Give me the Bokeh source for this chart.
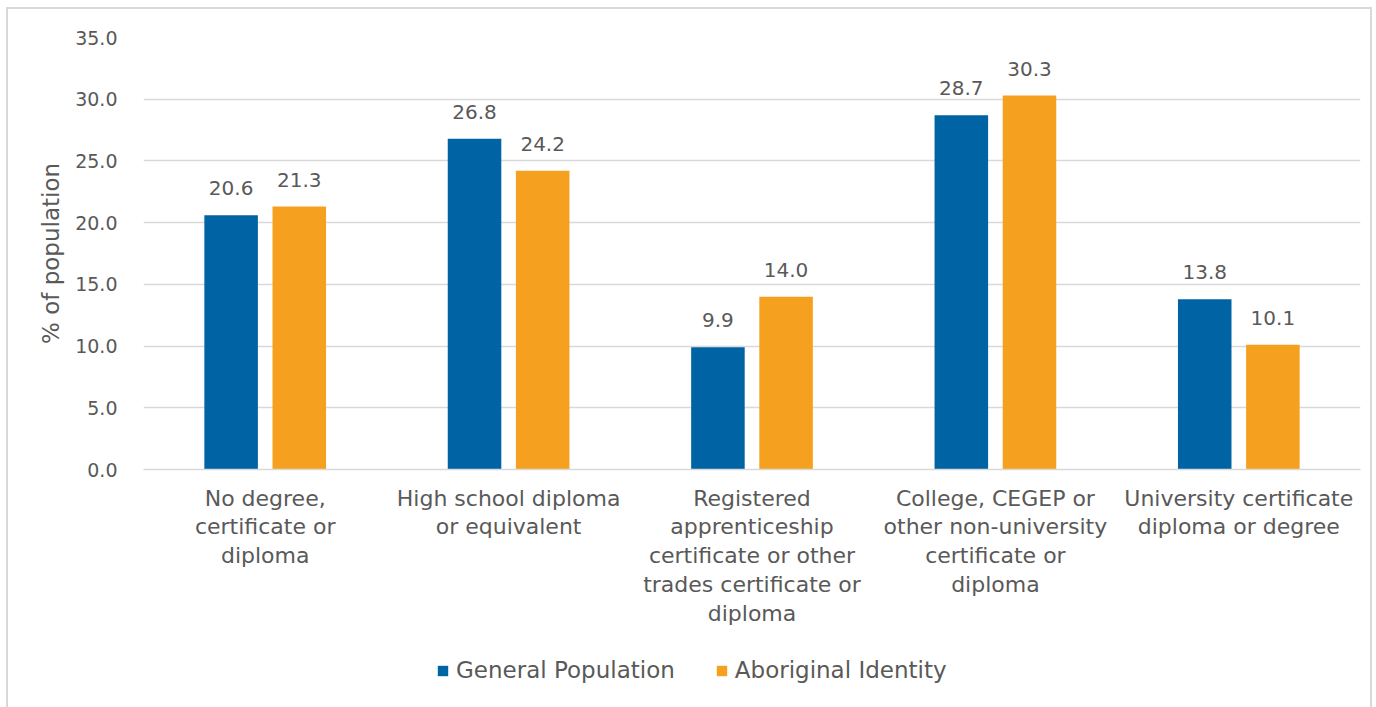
from bokeh.plotting import figure
from bokeh.layouts import column
from bokeh.models import ColumnDataSource, Range1d, FixedTicker, Legend, LegendItem, LabelSet
from bokeh.core.properties import value
from bokeh.transform import dodge
from bokeh.embed import file_html
from bokeh.resources import INLINE

categories = [
    "No degree,\ncertificate or\ndiploma",
    "High school diploma\nor equivalent",
    "Registered\napprenticeship\ncertificate or other\ntrades certificate or\ndiploma",
    "College, CEGEP or\nother non-university\ncertificate or\ndiploma",
    "University certificate\ndiploma or degree",
]
series_names = ["General Population", "Aboriginal Identity"]
general_population = [20.6, 26.8, 9.9, 28.7, 13.8]
aboriginal_identity = [21.3, 24.2, 14.0, 30.3, 10.1]
y_ticks = [0, 5, 10, 15, 20, 25, 30, 35]

FONT = "DejaVu Sans"
TEXT = "#595959"
BLUE = "#0064A4"
ORANGE = "#F5A11F"
GRID = "#d9d9d9"

idx = list(range(len(categories)))
src = ColumnDataSource(dict(
    x=idx,
    gen=general_population,
    abo=aboriginal_identity,
    gen_lbl=[f"{v:.1f}" for v in general_population],
    abo_lbl=[f"{v:.1f}" for v in aboriginal_identity],
))

p = figure(width=1362, height=633, output_backend="svg", toolbar_location=None,
           x_range=Range1d(-0.5, len(categories) - 0.5), y_range=Range1d(0, 35),
           min_border_left=135, min_border_right=10, min_border_top=28, min_border_bottom=173)
p.outline_line_color = None
p.background_fill_color = "white"
p.border_fill_color = "white"

p.vbar(x=dodge("x", -0.14, range=p.x_range), top="gen", width=0.22, source=src,
       fill_color=BLUE, line_color=None)
p.vbar(x=dodge("x", 0.14, range=p.x_range), top="abo", width=0.22, source=src,
       fill_color=ORANGE, line_color=None)

for col, lbl, off in (("gen", "gen_lbl", -0.14), ("abo", "abo_lbl", 0.14)):
    ls = LabelSet(x=dodge("x", off, range=p.x_range), y=col, text=lbl, source=src,
                  text_align="center", text_baseline="bottom", y_offset=20,
                  text_font=value(FONT), text_font_size="20px", text_color=TEXT)
    p.add_layout(ls)

p.xgrid.grid_line_color = None
p.ygrid.grid_line_color = GRID
p.ygrid.grid_line_width = 1.5
p.yaxis.ticker = FixedTicker(ticks=y_ticks)
p.yaxis.major_label_overrides = {t: f"{t:.1f}" for t in y_ticks}
p.xaxis.ticker = FixedTicker(ticks=idx)
p.xaxis.major_label_overrides = {i: c for i, c in zip(idx, categories)}

for ax in (p.xaxis[0], p.yaxis[0]):
    ax.major_tick_line_color = None
    ax.minor_tick_line_color = None
    ax.major_label_text_font = FONT
    ax.major_label_text_color = TEXT
p.yaxis.major_label_text_font_size = "19px"
p.xaxis.major_label_text_font_size = "22px"
p.xaxis.major_label_text_line_height = 1.15
p.yaxis.axis_line_color = None
p.xaxis.axis_line_color = GRID
p.xaxis.axis_line_width = 1.5
p.yaxis.major_label_standoff = 20
p.xaxis.major_label_standoff = 10
p.yaxis.axis_label = "% of population"
p.yaxis.axis_label_text_font = FONT
p.yaxis.axis_label_text_font_style = "normal"
p.yaxis.axis_label_text_font_size = "23px"
p.yaxis.axis_label_text_color = TEXT
p.yaxis.axis_label_standoff = 8

# legend in a small companion figure below the chart
lg = figure(width=1362, height=67, output_backend="svg", toolbar_location=None,
            x_range=Range1d(0, 1), y_range=Range1d(0, 1),
            min_border=0, outline_line_color=None)
lg.axis.visible = False
lg.grid.visible = False
proxy = ColumnDataSource(dict(x=[float("nan")], top=[float("nan")]))
g1 = lg.vbar(x="x", top="top", width=0.1, source=proxy, fill_color=BLUE, line_color=None)
g2 = lg.vbar(x="x", top="top", width=0.1, source=proxy, fill_color=ORANGE, line_color=None)
legend = Legend(items=[LegendItem(label=series_names[0], renderers=[g1]),
                       LegendItem(label=series_names[1], renderers=[g2])],
                orientation="horizontal", location=(293, 26),
                label_text_font=FONT, label_text_font_size="23px", label_text_color=TEXT,
                glyph_width=13, glyph_height=13, spacing=40, border_line_color=None,
                background_fill_alpha=0, margin=0, padding=0, label_standoff=7)
lg.add_layout(legend, "center")

layout = column(p, lg, spacing=0, margin=(7, 0, 0, 6),
                styles={"border-top": f"2px solid {GRID}", "border-left": f"2px solid {GRID}",
                        "border-right": f"2px solid {GRID}"})

open("out.html", "w").write(file_html(layout, INLINE))
